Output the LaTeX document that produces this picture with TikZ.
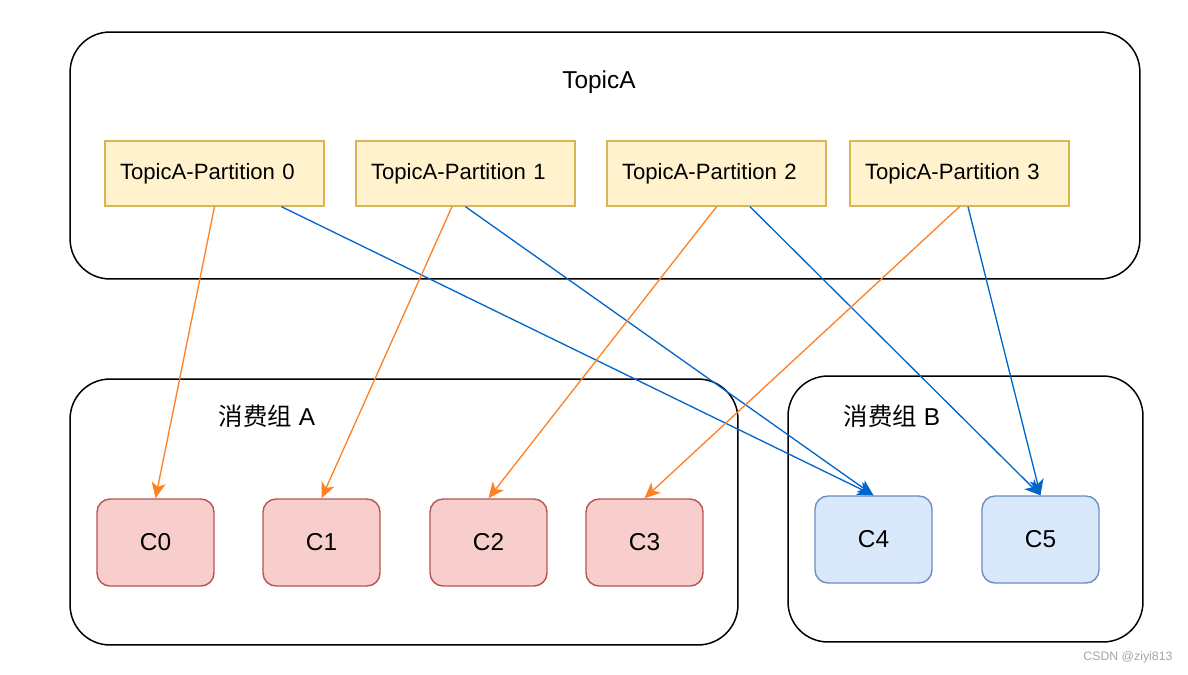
\documentclass[tikz,border=0pt]{standalone}
\usepackage{fontspec}
\setmainfont{Liberation Sans}
\newfontfamily\cjk{Noto Sans CJK SC}
\usetikzlibrary{arrows.meta}
\definecolor{partfill}{HTML}{FFF2CC}
\definecolor{partline}{HTML}{D6B656}
\definecolor{redfill}{HTML}{F8CECC}
\definecolor{redline}{HTML}{B85450}
\definecolor{bluefill}{HTML}{DAE8FC}
\definecolor{blueline}{HTML}{6C8EBF}
\definecolor{orangearr}{HTML}{FF8126}
\definecolor{bluearr}{HTML}{0066CC}

\begin{document}
\begin{tikzpicture}[x=0.02cm,y=-0.02cm]
\tikzstyle{every node}+=[inner sep=0pt]
\tikzstyle{group}=[draw=black,line width=0.85pt,rounded corners=0.8cm]
\tikzstyle{part}=[draw=partline,fill=partfill,line width=0.8pt,minimum width=4.38cm,minimum height=1.3cm,text width=3.78cm,inner xsep=0.3cm,align=left,font=\fontsize{12.6}{15}\selectfont]
\tikzstyle{cred}=[draw=redline,fill=redfill,line width=0.8pt,rounded corners=0.26cm,minimum width=2.34cm,minimum height=1.74cm,font=\fontsize{13.9}{16}\selectfont]
\tikzstyle{cblue}=[cred,draw=blueline,fill=bluefill]
\tikzstyle{toA}=[draw=orangearr,line width=0.75pt,-{Stealth[length=9pt,width=8pt,inset=2.5pt]}]
\tikzstyle{toB}=[toA,draw=bluearr]
\fill [white] (0,0) rectangle (1188,674);
% topic and groups
\node [group,minimum width=21.4cm,minimum height=4.94cm] (topic) at (605,155.5) {};
\node [font=\fontsize{13.9}{16}\selectfont] (title) at (599,82) {TopicA};
\node [group,minimum width=13.36cm,minimum height=5.32cm] (grpA) at (404,512) {};
\node [group,minimum width=7.1cm,minimum height=5.32cm] (grpB) at (965.5,509) {};
\node [font=\fontsize{13.9}{16}\selectfont] (lblA) at (267,416) {{\cjk 消费组} A};
\node [font=\fontsize{13.9}{16}\selectfont] (lblB) at (892,416) {{\cjk 消费组} B};
% partitions
\node [part] (p0) at (214.5,173.5) {\raisebox{-1.5pt}{TopicA-Partition 0}};
\node [part] (p1) at (465.5,173.5) {\raisebox{-1.5pt}{TopicA-Partition 1}};
\node [part] (p2) at (716.5,173.5) {\raisebox{-1.5pt}{TopicA-Partition 2}};
\node [part] (p3) at (959.5,173.5) {\raisebox{-1.5pt}{TopicA-Partition 3}};
% consumers
\node [cred] (c0) at (155.5,542.5) {C0};
\node [cred] (c1) at (321.5,542.5) {C1};
\node [cred] (c2) at (488.5,542.5) {C2};
\node [cred] (c3) at (644.5,542.5) {C3};
\node [cblue] (c4) at (873.5,539.5) {C4};
\node [cblue] (c5) at (1040.5,539.5) {C5};
% assignments
\draw [toA] (p0.south) -- (c0.north);
\draw [toB] ([xshift=1.34cm]p0.south) -- (c4.north);
\draw [toA] ([xshift=-0.27cm]p1.south) -- (c1.north);
\draw [toB] (p1.south) -- (c4.north);
\draw [toA] (p2.south) -- (c2.north);
\draw [toB] ([xshift=0.67cm]p2.south) -- (c5.north);
\draw [toA] (p3.south) -- (c3.north);
\draw [toB] ([xshift=0.17cm]p3.south) -- (c5.north);
\node [text=black!35,font=\fontsize{7}{8}\selectfont] (mark) at (1128,657) {CSDN @ziyi813};
\end{tikzpicture}
\end{document}
